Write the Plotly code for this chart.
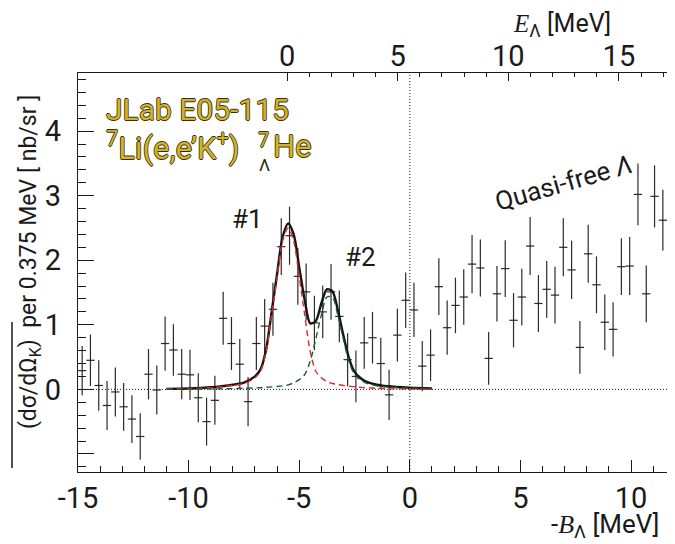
import plotly.graph_objects as go
import numpy as np

# ---------------- data ----------------
BIN_LO = -15.0          # lower edge of first bin [MeV]
BIN_W = 0.375           # bin width [MeV]
E_OFFSET = 5.55         # E_Lambda = -B_Lambda + E_OFFSET

counts = [0.29, 0.45, 0.06, -0.25, -0.04, -0.27, -0.46, -0.73, 0.235, -0.01,
          0.71, 0.61, 0.235, 0.225, -0.13, -0.50, -0.17, 1.10, 0.71, 0.39,
          -0.19, 0.71, 0.98, 1.24, 2.21, 2.38, 1.75, 1.51, 1.03, 1.20,
          1.51, 1.13, 0.46, 0.20, 0.72, 0.80, 0.40, -0.085, 0.84, 1.38,
          1.23, 0.36, 0.53, 1.59, 0.955, 1.30, 1.43, 1.94, 1.88, 0.48,
          1.48, 1.87, 1.07, 1.43, 2.22, 1.33, 1.55, 1.46, 2.20, 1.85,
          0.65, 2.10, 1.62, 1.04, 0.93, 1.90, 1.91, 3.02, 1.48, 2.99,
          2.62]
errors = [0.38, 0.40, 0.39, 0.38, 0.38, 0.37, 0.37, 0.36, 0.39, 0.38,
          0.42, 0.40, 0.39, 0.39, 0.38, 0.37, 0.38, 0.41, 0.41, 0.39,
          0.38, 0.41, 0.42, 0.41, 0.44, 0.45, 0.44, 0.44, 0.42, 0.41,
          0.43, 0.40, 0.41, 0.40, 0.40, 0.40, 0.40, 0.39, 0.41, 0.43,
          0.42, 0.39, 0.40, 0.44, 0.42, 0.43, 0.43, 0.45, 0.44, 0.41,
          0.43, 0.44, 0.42, 0.44, 0.45, 0.44, 0.44, 0.44, 0.45, 0.45,
          0.41, 0.45, 0.44, 0.43, 0.42, 0.44, 0.45, 0.48, 0.44, 0.48,
          0.47]

fit_x = [-11.0, -10.0, -9.0, -8.5, -8.0, -7.5, -7.0, -6.75, -6.5, -6.25,
         -6.0, -5.75, -5.5, -5.25, -5.0, -4.75, -4.5, -4.25, -4.0, -3.75,
         -3.5, -3.25, -3.0, -2.75, -2.5, -2.25, -2.0, -1.5, -1.0, 0.0, 1.0]
fit_peak1 = [0.005, 0.01, 0.025, 0.04, 0.06, 0.09, 0.18, 0.28, 0.58, 1.15,
             1.74, 2.30, 2.50, 2.30, 1.74, 1.15, 0.58, 0.28, 0.18, 0.12,
             0.09, 0.075, 0.06, 0.05, 0.04, 0.032, 0.025, 0.017, 0.01, 0.005, 0.003]
fit_peak2 = [0.003, 0.004, 0.007, 0.009, 0.012, 0.016, 0.022, 0.026, 0.032, 0.038,
             0.045, 0.055, 0.07, 0.10, 0.15, 0.23, 0.44, 0.78, 1.15, 1.43,
             1.43, 1.14, 0.77, 0.43, 0.23, 0.15, 0.10, 0.055, 0.038, 0.02, 0.01]
fit_total = [0.008, 0.014, 0.032, 0.049, 0.072, 0.106, 0.20, 0.31, 0.61, 1.19,
             1.79, 2.36, 2.57, 2.40, 1.89, 1.38, 1.02, 1.06, 1.33, 1.55,
             1.52, 1.22, 0.83, 0.48, 0.27, 0.18, 0.125, 0.072, 0.048, 0.025, 0.013]

x_ticks = [-15, -10, -5, 0, 5, 10]
x_ticktext = ["-15", "-10", "-5", "0", "5", "10"]
y_ticks = [-1, 0, 1, 2, 3, 4]
y_ticktext = ["", "0", "1", "2", "3", "4"]
e_ticks = [0, 5, 10, 15]

# ---------------- layout geometry ----------------
PAGE_W, PAGE_H = 675, 544
BODY = 8                      # default page body margin
W, H = PAGE_W - BODY, PAGE_H - BODY
FRAME_L, FRAME_R, FRAME_T, FRAME_B = 78, 667, 73, 472   # in page pixels
ML, MR = FRAME_L - BODY, PAGE_W - FRAME_R
MT, MB = FRAME_T - BODY, PAGE_H - FRAME_B
X_RANGE = [BIN_LO, 11.625]
Y_RANGE = [-1.28, 4.9]
E_RANGE = [X_RANGE[0] + E_OFFSET, X_RANGE[1] + E_OFFSET]

def px(x):   # page pixel -> paper
    return (x - FRAME_L) / (FRAME_R - FRAME_L)

def py(y):
    return (FRAME_B - y) / (FRAME_B - FRAME_T)

FONT = "Roboto, Noto Sans, DejaVu Sans, sans-serif"
TICKFONT = "Liberation Sans Narrow, Roboto, sans-serif"
INK = "#1a1a1a"

centers = BIN_LO + BIN_W * (np.arange(len(counts)) + 0.5)

fig = go.Figure()

fig.add_trace(go.Scatter(
    x=centers, y=counts, mode="markers",
    marker=dict(size=1, color=INK),
    error_y=dict(type="data", array=errors, visible=True, width=0,
                 thickness=1.2, color="#2b2b2b"),
    error_x=dict(type="constant", value=BIN_W / 2, visible=True, width=0,
                 thickness=1.2, color="#2b2b2b"),
    showlegend=False, hoverinfo="skip"))

fig.add_trace(go.Scatter(x=fit_x, y=fit_total, mode="lines",
                         line=dict(color="#151515", width=2.4, shape="spline", smoothing=0.8),
                         showlegend=False, hoverinfo="skip"))
fig.add_trace(go.Scatter(x=fit_x, y=fit_peak1, mode="lines",
                         line=dict(color="#e8262a", width=1.4, dash="6px,4px", shape="spline", smoothing=0.8),
                         showlegend=False, hoverinfo="skip"))
fig.add_trace(go.Scatter(x=fit_x, y=fit_peak2, mode="lines",
                         line=dict(color="#1f5a30", width=1.4, dash="6px,4px", shape="spline", smoothing=0.8),
                         showlegend=False, hoverinfo="skip"))

# dummy trace to anchor top axis
fig.add_trace(go.Scatter(x=E_RANGE, y=[Y_RANGE[0], Y_RANGE[0]], xaxis="x2", yaxis="y",
                         mode="lines", line=dict(width=0, color="rgba(0,0,0,0)"),
                         showlegend=False, hoverinfo="skip"))

tickfont = dict(family=TICKFONT, size=29, color=INK)

fig.update_layout(
    width=W, height=H,
    margin=dict(l=ML, r=MR, t=MT, b=MB, pad=0),
    paper_bgcolor="white", plot_bgcolor="white",
    xaxis=dict(range=X_RANGE, tickmode="array", tickvals=x_ticks, ticktext=x_ticktext,
               ticks="inside", ticklen=12, tickwidth=1, tickcolor=INK, ticklabelstandoff=0,
               minor=dict(dtick=1, tick0=0, ticks="inside", ticklen=6, tickcolor=INK, tickwidth=1),
               showline=True, linecolor=INK, linewidth=1.2, mirror=True,
               showgrid=False, zeroline=False, tickfont=tickfont),
    xaxis2=dict(range=E_RANGE, overlaying="x", side="top", anchor="y",
                tickmode="array", tickvals=e_ticks,
                ticks="inside", ticklen=8, tickwidth=1, tickcolor=INK,
                minor=dict(tickmode="array", tickvals=[v for v in range(0, 18) if v % 5],
                           ticks="inside", ticklen=4, tickcolor=INK, tickwidth=1),
                showline=False, showgrid=False, zeroline=False, tickfont=tickfont),
    yaxis=dict(range=Y_RANGE, tickmode="array", tickvals=y_ticks, ticktext=y_ticktext,
               ticks="inside", ticklen=16, tickwidth=1, tickcolor=INK, ticklabelstandoff=10,
               minor=dict(dtick=0.2, tick0=0, ticks="inside", ticklen=8, tickcolor=INK, tickwidth=1),
               showline=True, linecolor=INK, linewidth=1.2, mirror=True,
               showgrid=False, zeroline=False, tickfont=tickfont),
)

# dotted reference lines at y=0 and -B=0
fig.add_shape(type="line", xref="x", yref="y", x0=X_RANGE[0], x1=X_RANGE[1], y0=0, y1=0,
              line=dict(color=INK, width=1, dash="1px,2px"), layer="below")
fig.add_shape(type="line", xref="x", yref="y", x0=0, x1=0, y0=Y_RANGE[0], y1=Y_RANGE[1],
              line=dict(color=INK, width=1, dash="1px,2px"), layer="below")

# overline over (dσ/dΩK) of rotated y title
fig.add_shape(type="line", xref="paper", yref="paper", x0=px(12), x1=px(12),
              y0=py(468), y1=py(322), line=dict(color=INK, width=1.5))

def ann(text, x, y, size, xanchor="center", yanchor="middle", color=INK, angle=0,
        family=FONT, **kw):
    fig.add_annotation(text=text, x=px(x), y=py(y), xref="paper", yref="paper",
                       xanchor=xanchor, yanchor=yanchor, showarrow=False, textangle=angle,
                       font=dict(family=family, size=size, color=color, **kw))

ann("(dσ/dΩ<sub>K</sub>)  per 0.375 MeV [ nb/sr ]", 30, 262, 23, angle=-90)
ann("-<i><span style='font-family:Liberation Serif'>B</span></i><sub>Λ</sub> [MeV]",
    661, 525, 26, xanchor="right")
ann("<i><span style='font-family:Liberation Serif'>E</span></i><sub>Λ</sub> [MeV]",
    613, 25, 25, xanchor="right")

GOLD = "#cfb232"
outline = "-0.8px 0 #3b3000, 0.8px 0 #3b3000, 0 -0.8px #3b3000, 0 0.8px #3b3000"
ann("JLab E05-115", 104, 109, 30, xanchor="left", color=GOLD, shadow=outline)
ann("<sup>7</sup>Li(e,e’K<sup>+</sup>)", 104, 146, 31, xanchor="left",
    color=GOLD, shadow=outline)
ann("7", 263, 140, 20, color=GOLD, shadow=outline)
ann("He", 271, 146, 31, xanchor="left", color=GOLD, shadow=outline)
ann("Λ", 264, 165, 17, color="#2a2200")

ann("#1", 247, 219, 26)
ann("#2", 360, 257, 26)
ann("Quasi-free <i>Λ</i>", 563, 183, 26, angle=-16)

fig.write_html("out.html")
